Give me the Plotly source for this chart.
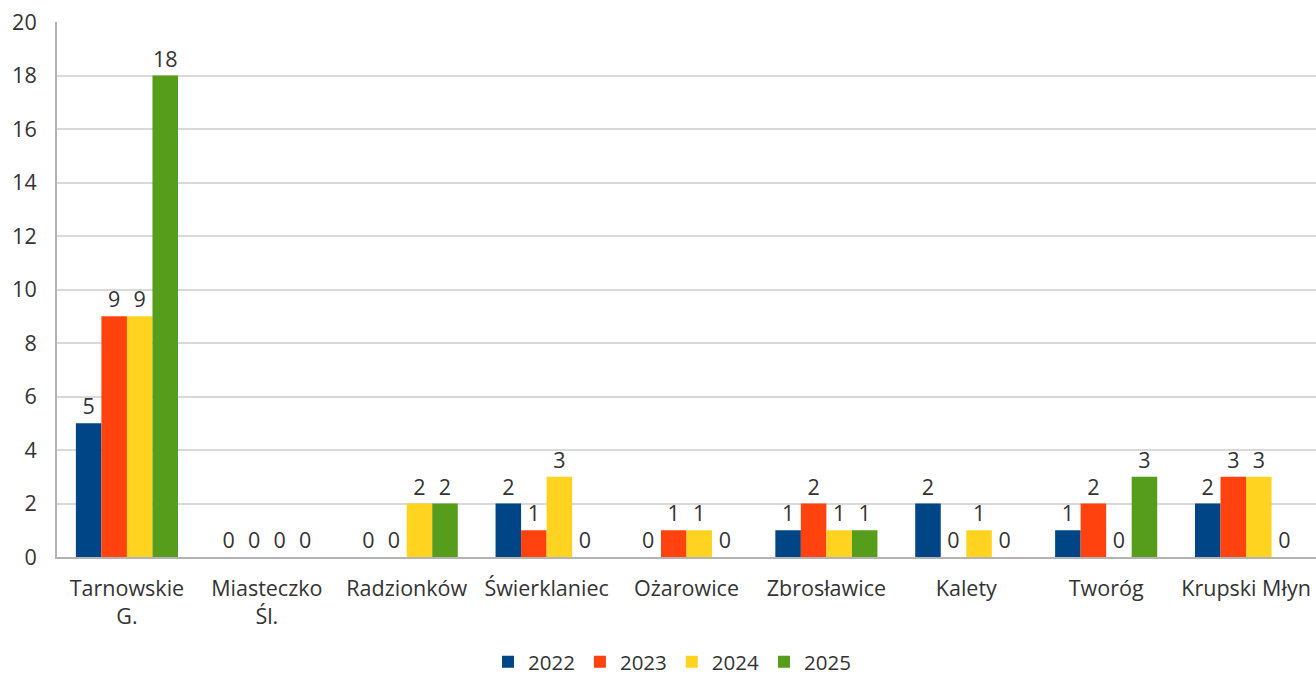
import plotly.graph_objects as go

categories = ["Tarnowskie<br>G.", "Miasteczko<br>Śl.", "Radzionków", "Świerklaniec", "Ożarowice",
              "Zbrosławice", "Kalety", "Tworóg", "Krupski Młyn"]
years = ["2022", "2023", "2024", "2025"]
v2022 = [5, 0, 0, 2, 0, 1, 2, 1, 2]
v2023 = [9, 0, 0, 1, 1, 2, 0, 2, 3]
v2024 = [9, 0, 2, 3, 1, 1, 1, 0, 3]
v2025 = [18, 0, 2, 0, 0, 1, 0, 3, 0]
series = [v2022, v2023, v2024, v2025]
colors = ["#004586", "#ff420e", "#ffd320", "#579d1c"]

FONT = "Open Sans"
TXT = "#333333"
FS = 21.5

fig = go.Figure()
for name, vals, col in zip(years, series, colors):
    fig.add_trace(go.Bar(
        x=categories, y=vals, name=name, marker_color=col,
        marker_line_width=0,
        text=[str(v) for v in vals], textposition="outside",
        textfont=dict(family=FONT, size=FS, color=TXT),
        cliponaxis=False,
    ))

fig.update_layout(
    width=1316, height=679,
    margin=dict(l=57, r=0, t=22, b=122, autoexpand=False),
    paper_bgcolor="white", plot_bgcolor="white",
    barmode="group", bargap=0.27, bargroupgap=0,
    font=dict(family=FONT, size=FS, color=TXT),
    legend=dict(orientation="h", x=0.4885, xanchor="center", y=-0.196, yanchor="middle",
                font=dict(family=FONT, size=20.5, color=TXT), itemwidth=30,
                traceorder="normal"),
)
fig.update_xaxes(showline=True, linecolor="#b3b3b3", linewidth=2, ticks="", automargin=False,
                 ticklabelstandoff=11, tickfont=dict(family=FONT, size=FS, color=TXT),
                 showgrid=False)
fig.update_yaxes(range=[0, 20], dtick=2, showgrid=True, gridcolor="#d9d9d9", gridwidth=1.5,
                 showline=True, linecolor="#b3b3b3", linewidth=2, zeroline=False, automargin=False,
                 ticks="", ticklabelstandoff=14, tickfont=dict(family=FONT, size=FS, color=TXT))

fig.write_html("out.html", config={"displayModeBar": False},
               post_script="document.body.style.margin='0';document.body.style.overflow='hidden';")
